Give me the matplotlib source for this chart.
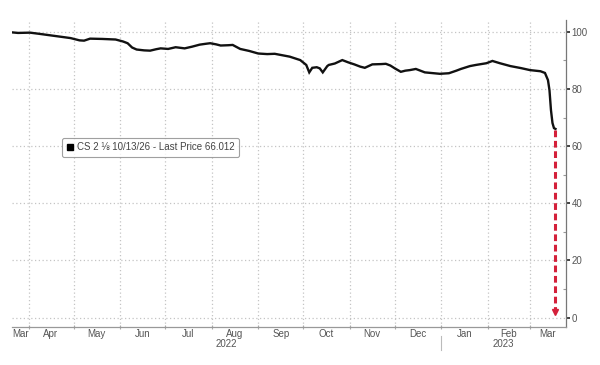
import matplotlib
matplotlib.use("Agg")
import matplotlib.pyplot as plt
import matplotlib.transforms as mtransforms
from matplotlib.lines import Line2D
import pandas as pd

# ---- data ----
dates = [
    "2022-03-21", "2022-03-25", "2022-04-02", "2022-04-08", "2022-04-15", "2022-04-22",
    "2022-04-29", "2022-05-05", "2022-05-08", "2022-05-12", "2022-05-20", "2022-05-29",
    "2022-06-03", "2022-06-06", "2022-06-09", "2022-06-12", "2022-06-17", "2022-06-21",
    "2022-06-25", "2022-06-28", "2022-07-03", "2022-07-08", "2022-07-11", "2022-07-14",
    "2022-07-19", "2022-07-24", "2022-07-28", "2022-07-31", "2022-08-04", "2022-08-07",
    "2022-08-12", "2022-08-15", "2022-08-20", "2022-08-26", "2022-09-01", "2022-09-07",
    "2022-09-12", "2022-09-18", "2022-09-22", "2022-09-29", "2022-10-03", "2022-10-05",
    "2022-10-07", "2022-10-10", "2022-10-12", "2022-10-14", "2022-10-17", "2022-10-18",
    "2022-10-22", "2022-10-27", "2022-10-31", "2022-11-04", "2022-11-08", "2022-11-11",
    "2022-11-16", "2022-11-22", "2022-11-25", "2022-11-28", "2022-12-01", "2022-12-05",
    "2022-12-08", "2022-12-11", "2022-12-15", "2022-12-21", "2022-12-31", "2023-01-06",
    "2023-01-11", "2023-01-14", "2023-01-20", "2023-01-24", "2023-01-31", "2023-02-04",
    "2023-02-09", "2023-02-16", "2023-02-23", "2023-03-01", "2023-03-08", "2023-03-11",
    "2023-03-13", "2023-03-14", "2023-03-15", "2023-03-16", "2023-03-17", "2023-03-18",
]
prices = [
    99.8, 99.6, 99.7, 99.3, 98.8, 98.3,
    97.8, 97.0, 96.9, 97.6, 97.5, 97.3,
    96.6, 96.0, 94.5, 93.8, 93.5, 93.4,
    93.9, 94.2, 94.0, 94.6, 94.4, 94.2,
    94.8, 95.5, 95.8, 96.0, 95.6, 95.2,
    95.3, 95.4, 94.0, 93.3, 92.4, 92.2,
    92.3, 91.7, 91.3, 90.1, 88.4, 85.8,
    87.4, 87.6, 87.2, 85.8, 88.0, 88.4,
    88.9, 90.1, 89.3, 88.6, 87.8, 87.4,
    88.6, 88.7, 88.8, 88.2, 87.2, 86.0,
    86.4, 86.6, 87.0, 85.8, 85.3, 85.5,
    86.4, 87.0, 88.0, 88.4, 89.0, 89.8,
    89.0, 88.0, 87.3, 86.6, 86.2, 85.6,
    83.1, 79.6, 72.6, 68.1, 66.3, 66.012,
]
legend_label = "CS 2 \u215b 10/13/26 - Last Price 66.012"
y_ticks = [0, 20, 40, 60, 80, 100]
y_minor = [10, 30, 50, 70, 90]
month_labels = ["Mar", "Apr", "May", "Jun", "Jul", "Aug", "Sep", "Oct", "Nov", "Dec", "Jan", "Feb", "Mar"]
year_labels = ["2022", "2023"]
arrow_top = 65.5
arrow_bottom = 1.0

# ---- figure ----
plt.rcParams['font.family'] = ['Liberation Sans', 'DejaVu Sans']
fig = plt.figure(figsize=(6.0, 3.65), dpi=100)
ax = fig.add_axes([0.02, 0.104, 0.9233, 0.841])

d = pd.to_datetime(dates)
ax.plot(d, prices, color="#111111", lw=1.7, solid_joinstyle="miter", zorder=3)

xmin = pd.Timestamp("2022-03-21")
xmax = pd.Timestamp("2023-03-25")
ax.set_xlim(xmin, xmax)
ax.set_ylim(-3.3, 104.1)

# spines
for s in ["left", "top"]:
    ax.spines[s].set_visible(False)
ax.spines["right"].set_color("#777777")
ax.spines["bottom"].set_color("#999999")
ax.spines["right"].set_linewidth(0.9)
ax.spines["bottom"].set_linewidth(0.9)

# y axis on right
ax.yaxis.tick_right()
ax.set_yticks(y_ticks)
ax.set_yticks(y_minor, minor=True)
ax.tick_params(axis="y", which="major", direction="out", length=3, width=1.2,
               color="#222222", labelsize=7, labelcolor="#555555", pad=1)
ax.tick_params(axis="y", which="minor", direction="in", length=2, width=0.8, color="#999999")

# x axis: month boundaries as major ticks, labels at month centres
month_starts = pd.date_range("2022-04-01", "2023-03-01", freq="MS")
ax.set_xticks(month_starts)
ax.set_xticklabels([])
ax.tick_params(axis="x", which="major", direction="inout", length=3, width=0.8, color="#aaaaaa")
bounds = [xmin] + list(month_starts) + [xmax]
centers = [bounds[i] + (bounds[i + 1] - bounds[i]) / 2 for i in range(len(bounds) - 1)]
ax.set_xticks(centers, minor=True)
ax.set_xticklabels(month_labels, minor=True)
ax.tick_params(axis="x", which="minor", length=0, labelsize=7, labelcolor="#555555", pad=1.5)

# grid
ax.grid(True, which="major", axis="both", linestyle=(0, (1, 2)), color="#c4c4c4", lw=0.9)

# year labels
trans = mtransforms.blended_transform_factory(ax.transData, ax.transAxes)
jan1 = pd.Timestamp("2023-01-01")
ax.text(xmin + (jan1 - xmin) / 2, -0.055, year_labels[0], transform=trans, ha="center",
        va="center", fontsize=7, color="#555555")
ax.text(jan1 + (xmax - jan1) / 2, -0.055, year_labels[1], transform=trans, ha="center",
        va="center", fontsize=7, color="#555555")
ax.plot([jan1, jan1], [-0.03, -0.075], transform=trans, color="#bbbbbb", lw=0.8, clip_on=False)

# red dashed arrow
xa = d[-1]
ax.plot([xa, xa], [arrow_top, arrow_bottom + 1.5], color="#d4203a", lw=2.2,
        linestyle=(0, (2.2, 1.2)), zorder=4)
ax.plot([xa], [arrow_bottom + 1.0], marker="v", color="#d4203a", markersize=5, zorder=4)

# legend
h = Line2D([], [], marker="s", color="black", linestyle="none", markersize=5)
leg = ax.legend([h], [legend_label], loc="center left", bbox_to_anchor=(0.09, 0.585),
                frameon=True, fancybox=True, fontsize=7, handlelength=0.8,
                handletextpad=0.3, borderpad=0.45, borderaxespad=0)
leg.get_frame().set_edgecolor("#888888")
leg.get_frame().set_linewidth(0.8)
for t in leg.get_texts():
    t.set_color("#444444")

fig.savefig("out.png", dpi=100, facecolor="white")
